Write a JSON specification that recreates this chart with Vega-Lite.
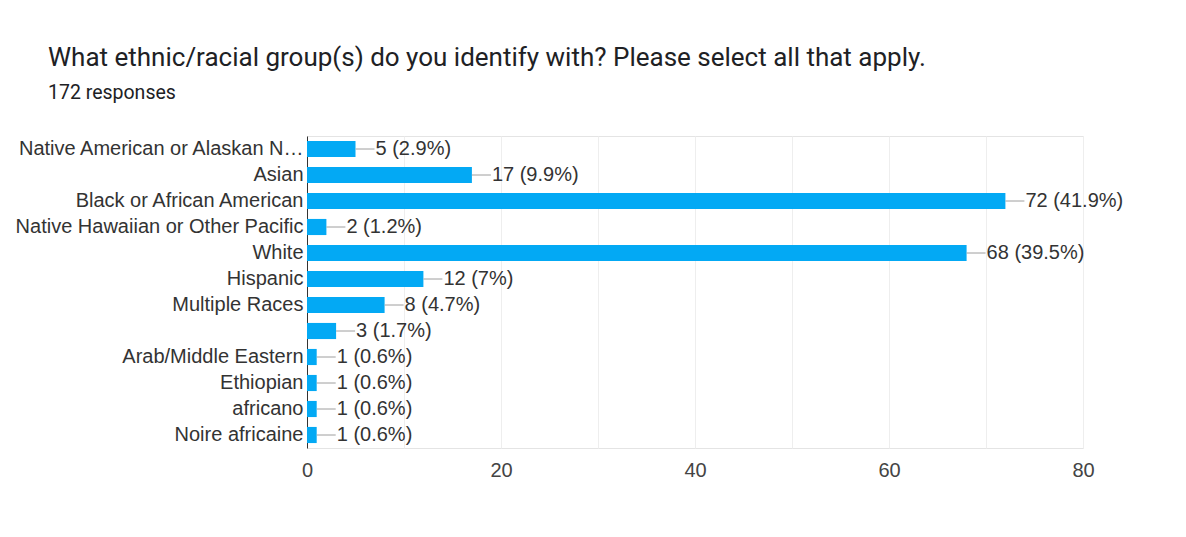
{
  "$schema": "https://vega.github.io/schema/vega-lite/v6.json",
  "autosize": "none",
  "width": 776,
  "height": 312,
  "padding": {"left": 307, "top": 136, "right": 103, "bottom": 89},
  "background": "white",
  "title": {
    "text": "What ethnic/racial group(s) do you identify with? Please select all that apply.",
    "subtitle": "172 responses",
    "anchor": "start",
    "frame": "group",
    "dx": -259,
    "offset": 34,
    "font": "Roboto",
    "fontSize": 26,
    "fontWeight": "normal",
    "color": "#202124",
    "subtitleFont": "Roboto",
    "subtitleFontSize": 19.5,
    "subtitleColor": "#202124",
    "subtitlePadding": 13
  },
  "config": {
    "view": {"stroke": "#e4e4e4", "strokeWidth": 1},
    "font": "Liberation Sans"
  },
  "data": {
    "values": [
      {"group": "Native American or Alaskan N…", "count": 5, "label": "5 (2.9%)"},
      {"group": "Asian", "count": 17, "label": "17 (9.9%)"},
      {"group": "Black or African American", "count": 72, "label": "72 (41.9%)"},
      {"group": "Native Hawaiian or Other Pacific", "count": 2, "label": "2 (1.2%)"},
      {"group": "White", "count": 68, "label": "68 (39.5%)"},
      {"group": "Hispanic", "count": 12, "label": "12 (7%)"},
      {"group": "Multiple Races", "count": 8, "label": "8 (4.7%)"},
      {"group": " ", "count": 3, "label": "3 (1.7%)"},
      {"group": "Arab/Middle Eastern", "count": 1, "label": "1 (0.6%)"},
      {"group": "Ethiopian", "count": 1, "label": "1 (0.6%)"},
      {"group": "africano", "count": 1, "label": "1 (0.6%)"},
      {"group": "Noire africaine", "count": 1, "label": "1 (0.6%)"}
    ]
  },
  "encoding": {
    "y": {
      "field": "group",
      "type": "nominal",
      "sort": null,
      "scale": {"paddingInner": 0.38, "paddingOuter": 0.19},
      "axis": {
        "title": null,
        "ticks": false,
        "labelPadding": 4,
        "labelFontSize": 20,
        "labelColor": "#333333",
        "labelFont": "Liberation Sans",
        "labelLimit": 400,
        "domainColor": "#333333",
        "domainWidth": 1,
        "grid": false
      }
    }
  },
  "layer": [
    {
      "mark": {"type": "bar", "color": "#03A9F4"},
      "encoding": {
        "x": {
          "field": "count",
          "type": "quantitative",
          "scale": {"domain": [0, 80], "nice": false},
          "axis": {
            "title": null,
            "values": [0, 10, 20, 30, 40, 50, 60, 70, 80],
            "labelExpr": "datum.value % 20 == 0 ? datum.label : ''",
            "labelFlush": false,
            "ticks": false,
            "domain": false,
            "grid": true,
            "gridColor": "#eeeeee",
            "labelFontSize": 20,
            "labelColor": "#444444",
            "labelFont": "Liberation Sans",
            "labelPadding": 12
          }
        }
      }
    },
    {
      "mark": {"type": "rule", "color": "#9e9e9e", "strokeWidth": 1, "x2Offset": 19},
      "encoding": {
        "x": {"field": "count", "type": "quantitative"},
        "x2": {"field": "count"}
      }
    },
    {
      "mark": {"type": "text", "align": "left", "baseline": "middle", "dx": 20, "fontSize": 20, "color": "#333333", "font": "Liberation Sans"},
      "encoding": {
        "x": {"field": "count", "type": "quantitative"},
        "text": {"field": "label"}
      }
    }
  ]
}
